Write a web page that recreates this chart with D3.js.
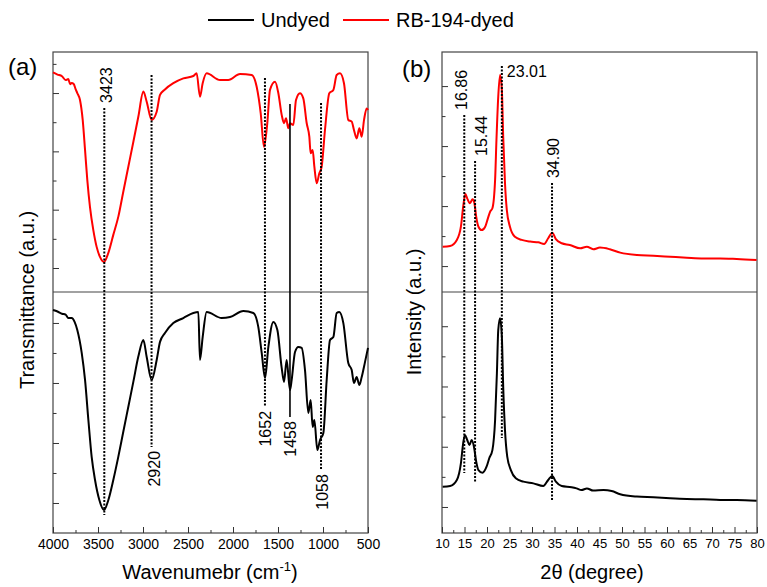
<!DOCTYPE html>
<html>
<head>
<meta charset="utf-8">
<script src="https://cdn.jsdelivr.net/npm/d3@7"></script>
<style>
  body { margin: 0; background: #fff; }
  svg text { font-family: "Liberation Sans", Arial, sans-serif; fill: #000; }
</style>
</head>
<body>
<script>
	// FTIR, dyed (red) - wavenumber / transmittance a.u.
	var ftirDyedWave = [4000,3950,3900,3860,3830,3810,3793,3770,3750,3730,3700,3670,3644,3619,3589,3552,3515,3478,3433,3385,3330,3274,3219,3163,3107,3052,2996,2959,2904,2848,2811,2756,2663,2552,2441,2404,2367,2337,2293,2144,2052,1922,1793,1737,1692,1656,1619,1589,1533,1496,1459,1433,1411,1385,1367,1330,1300,1256,1219,1181,1152,1137,1115,1096,1070,1041,1015,978,930,885,848,811,767,719,681,656,626,596,570,544,515,500];
	var ftirDyed = [91.5,90.6,89.9,88.3,88.7,86.6,87.1,86.7,84.6,82.9,80,71.7,59.2,46.7,35.4,25.8,18.8,14.6,12.5,16.3,23.8,31.4,41.8,52.2,62.6,73,83.5,79.3,71.7,75.1,82.1,84.4,87,89,90,91.1,81.4,87,91.1,88.3,88.3,90.8,90.4,85.5,74.4,60.5,70.3,84.2,87.6,82.8,73.8,70.3,72.4,68.2,70.3,69.6,80,82.8,80.7,70.3,64.7,57.8,59.2,52.2,45.3,49.5,52.2,67.5,82.8,84.2,90.4,91.1,87,71.7,71,67.5,64,68.2,64.7,71.7,76.5,75.8];

	// FTIR, undyed (black)
	var ftirUndyedWave = [4000,3950,3900,3860,3830,3793,3760,3730,3681,3644,3607,3570,3533,3485,3433,3385,3330,3274,3219,3163,3107,3052,2996,2959,2904,2848,2811,2756,2663,2552,2441,2385,2367,2337,2293,2126,2033,1885,1774,1719,1681,1644,1607,1552,1507,1459,1433,1404,1367,1348,1311,1274,1237,1200,1163,1137,1115,1096,1063,1033,996,959,922,885,848,819,774,719,681,656,626,596,570,533,500];
	var ftirUndyed = [92.5,91.9,91,90.6,89.2,89.2,87.6,84.2,74.7,63.5,46.9,31.5,22,13.7,9.5,13.7,22,31.7,42,52.4,62.8,73.2,80.1,73,63.5,71.8,79.3,83,87.1,89.2,91.3,91.7,71.8,81.3,91.7,89.2,89.6,92.1,91.3,85.5,74.7,64.3,77.2,87.6,84.2,68.5,62.7,71.8,59.3,63.5,75.1,77.2,76.8,67.6,49.8,55.2,44,46.9,34.4,38.6,41.5,63.5,80.1,81.3,91.3,91.7,87.1,70.5,67.6,62.2,64.7,61.4,64.7,71,76.8];

	// XRD, dyed (red) - 2theta / intensity a.u.
	var xrdDyedAngle = [10.15,11.8,13.3,14.2,14.7,15.2,15.6,16.2,16.8,17.2,17.6,18.1,18.8,19.6,20.2,20.7,21.2,21.8,22.1,22.5,22.9,23.3,23.6,24.0,24.4,25.1,26.2,27.7,29.6,31.4,32.7,33.6,34.5,35.3,36.6,38.4,40.7,42.2,43.6,45.1,47.3,49.6,53.3,57,60.7,64.4,68.1,71.8,75.5,79.9];
	var xrdDyed = [18.9,19.2,21.7,27.2,35.5,40.8,39,37,38.6,37,31.4,27.2,25.8,27.2,30.7,33.5,34.9,46.7,63.3,81.4,90.4,84.2,64.7,45.3,34.2,27.2,23,21.7,21,20.7,20,22.4,24.7,22,20.3,19.6,18.2,18.9,17.8,18.5,17.8,16.4,15.4,15.1,14.7,14.3,14,14,13.75,13.3];

	// XRD, undyed (black)
	var xrdUndyedAngle = [10.15,11.8,13.3,14.2,14.7,15.1,15.6,16.1,16.6,17.1,17.6,18.1,19.0,19.9,20.5,21.2,21.8,22.2,22.5,22.9,23.3,23.6,24.0,24.5,25.3,26.4,28.1,30.3,32.5,33.6,34.5,35.3,36.6,38.8,39.9,41,42.2,43.6,45.9,47.7,49.6,53.3,57,60.7,64.4,68.1,71.8,75.5,79.9];
	var xrdUndyed = [19.2,19.5,22,28.9,37.2,40.7,38.6,36.5,38.6,35.8,29.6,26.1,25,27.5,31,34.4,46.9,66.3,84.2,89.1,81.5,60.7,42.7,31.7,26.1,22.7,21.3,20.6,19.5,22,23.7,21.3,19.5,19,18.5,17.8,18.5,17.6,17.8,17.4,16.1,15.1,14.8,14.4,14.1,14,13.7,13.7,13.4];

	// tick labels
	var ftirTicks = [4000,3500,3000,2500,2000,1500,1000,500];
	var xrdTicks = [10,15,20,25,30,35,40,45,50,55,60,65,70,75,80];

	// peak markers: at = x value, from = top-panel value, to = bottom-panel value
	var ftirPeaks = [
		{label: "3423", at: 3430, from: 76.7, to: 7.5, side: "top", dx: 2, dash: true},
		{label: "2920", at: 2905, from: 90.4, to: 35.7, side: "bottom", dx: 3, dash: true},
		{label: "1652", at: 1645, from: 89.2, to: 52.3, side: "bottom", dx: 0, dash: true},
		{label: "1458", at: 1367, from: 78.3, to: 48.1, side: "bottom", dx: 0, dash: false},
		{label: "1058", at: 1022, from: 78.75, to: 26.1, side: "bottom", dx: 1, dash: true}
	];
	var xrdPeaks = [
		{label: "16.86", at: 14.95, from: 73.75, to: 24.9, side: "top", dx: -3, dash: true},
		{label: "15.44", at: 17.35, from: 54.6, to: 21.2, side: "top", dx: 6, dash: true},
		{label: "23.01", at: 23.3, from: 94.2, to: 39.4, side: "right", dx: 5, dash: true},
		{label: "34.90", at: 34.45, from: 45.4, to: 13.3, side: "top", dx: 1, dash: true}
	];

	var plotTop = 52, plotMid = 292, plotBot = 533;

	var svg = d3.select("body").append("svg")
		.attr("width", 767)
		.attr("height", 587)
		.style("background", "#fff");

	var xFtir = d3.scaleLinear().domain([4000, 500]).range([53, 368]);
	var xXrd = d3.scaleLinear().domain([10, 80]).range([442, 757]);
	var yUp = d3.scaleLinear().domain([0, 100]).range([plotMid, plotTop]);
	var yDown = d3.scaleLinear().domain([0, 100]).range([plotBot, plotMid]);

	// frames
	[xFtir, xXrd].forEach(function(x){
		var r = x.range();
		svg.append("rect")
			.attr("x", r[0]).attr("y", plotTop)
			.attr("width", r[1] - r[0]).attr("height", plotBot - plotTop)
			.attr("fill", "none").attr("stroke", "#444").attr("stroke-width", 1.2);
		svg.append("line")
			.attr("x1", r[0]).attr("x2", r[1])
			.attr("y1", plotMid).attr("y2", plotMid)
			.attr("stroke", "#444").attr("stroke-width", 1.2);
	});

	function cleanAxis(g){
		g.select(".domain").remove();
		g.selectAll(".tick line").attr("stroke", "#333");
	}

	// x axes, ticks pointing inward
	function xAxes(x, major, minor, fontSize){
		svg.append("g")
			.attr("transform", "translate(0," + plotBot + ")")
			.call(d3.axisBottom(x).tickValues(minor).tickSize(-3).tickFormat(""))
			.call(cleanAxis);
		svg.append("g")
			.attr("transform", "translate(0," + plotBot + ")")
			.call(d3.axisBottom(x).tickValues(major).tickSize(-6).tickPadding(6).tickFormat(d3.format("d")))
			.call(cleanAxis)
			.selectAll("text")
			.style("font-size", fontSize + "px")
			.style("font-family", "'Liberation Sans', Arial, sans-serif");
	}
	xAxes(xFtir, ftirTicks, d3.range(3750, 500, -500), 14);
	xAxes(xXrd, xrdTicks, d3.range(12.5, 80, 5), 13);

	// y axes (no labels, a.u.)
	function yAxes(x0, y, vals){
		var major = vals.filter(function(d, i){ return i % 2 == 0; });
		var minor = vals.filter(function(d, i){ return i % 2 == 1; });
		svg.append("g").attr("transform", "translate(" + x0 + ",0)")
			.call(d3.axisLeft(y).tickValues(major).tickSize(-6).tickFormat(""))
			.call(cleanAxis);
		svg.append("g").attr("transform", "translate(" + x0 + ",0)")
			.call(d3.axisLeft(y).tickValues(minor).tickSize(-3.5).tickFormat(""))
			.call(cleanAxis);
	}
	yAxes(53, yUp, d3.range(10, 100, 12.15));
	yAxes(53, yDown, d3.range(0, 90, 12.45).slice(1));
	yAxes(442, yUp, d3.range(10.8, 95, 12.5));
	yAxes(442, yDown, d3.range(10.8, 95, 12.5));

	// curves
	function curve(x, y, xs, ys, color){
		var line = d3.line()
			.x(function(d){ return x(d[0]); })
			.y(function(d){ return y(d[1]); })
			.curve(d3.curveMonotoneX);
		svg.append("path")
			.datum(d3.zip(xs, ys))
			.attr("fill", "none")
			.attr("stroke", color)
			.attr("stroke-width", 2)
			.attr("stroke-linejoin", "round")
			.attr("d", line);
	}
	curve(xFtir, yUp, ftirDyedWave, ftirDyed, "#ff0000");
	curve(xFtir, yDown, ftirUndyedWave, ftirUndyed, "#000");
	curve(xXrd, yUp, xrdDyedAngle, xrdDyed, "#ff0000");
	curve(xXrd, yDown, xrdUndyedAngle, xrdUndyed, "#000");

	// peak markers
	function peaks(x, list){
		list.forEach(function(p){
			var px = x(p.at), y1 = yUp(p.from), y2 = yDown(p.to);
			svg.append("line")
				.attr("x1", px).attr("x2", px)
				.attr("y1", y1).attr("y2", y2)
				.attr("stroke", "#000")
				.attr("stroke-width", p.dash ? 2 : 1.6)
				.attr("stroke-dasharray", p.dash ? "2,1.5" : null);
			var t = svg.append("text").style("font-size", "16px").text(p.label);
			if (p.side == "right") {
				t.attr("x", px + p.dx).attr("y", y1 + 11);
			} else if (p.side == "top") {
				t.attr("transform", "translate(" + (px + p.dx) + "," + (y1 - 5) + ") rotate(-90)")
					.attr("dy", "0.36em").attr("text-anchor", "start");
			} else {
				t.attr("transform", "translate(" + (px + p.dx) + "," + (y2 + 4) + ") rotate(-90)")
					.attr("dy", "0.36em").attr("text-anchor", "end");
			}
		});
	}
	peaks(xFtir, ftirPeaks);
	peaks(xXrd, xrdPeaks);

	// panel letters
	svg.append("text").attr("x", 8).attr("y", 75).style("font-size", "24px").text("(a)");
	svg.append("text").attr("x", 402).attr("y", 77).style("font-size", "24px").text("(b)");

	// axis titles
	var xt = svg.append("text").attr("x", 210).attr("y", 579)
		.attr("text-anchor", "middle").style("font-size", "20px");
	xt.append("tspan").text("Wavenumebr (cm");
	xt.append("tspan").attr("dy", -8).style("font-size", "13px").text("-1");
	xt.append("tspan").attr("dy", 8).text(")");

	svg.append("text").attr("x", 592).attr("y", 579)
		.attr("text-anchor", "middle").style("font-size", "20px").text("2\u03b8 (degree)");

	svg.append("text")
		.attr("transform", "translate(34,300) rotate(-90)")
		.attr("text-anchor", "middle").style("font-size", "20px").text("Transmittance (a.u.)");
	svg.append("text")
		.attr("transform", "translate(421,312) rotate(-90)")
		.attr("text-anchor", "middle").style("font-size", "20px").text("Intensity (a.u.)");

	// legend
	var series = [{name: "Undyed", color: "#000", x: 208}, {name: "RB-194-dyed", color: "#ff0000", x: 343}];
	series.forEach(function(s){
		var row = svg.append("g").attr("transform", "translate(" + s.x + ",20)");
		row.append("line").attr("x1", 0).attr("x2", 46).attr("stroke", s.color).attr("stroke-width", 2);
		row.append("text").attr("x", 53).attr("y", 7).style("font-size", "20px").text(s.name);
	});
</script>
</body>
</html>
